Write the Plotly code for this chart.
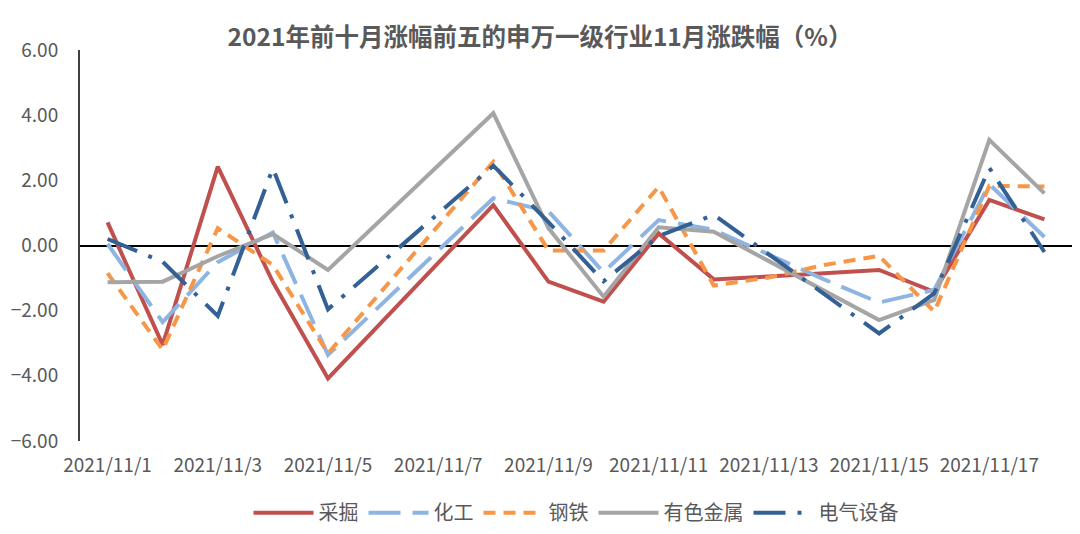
import plotly.graph_objects as go

categories = [f"2021/11/{d}" for d in range(1, 19)]
tick_labels = categories[::2]

caijue = [0.71, -3.05, 2.42, -1.12, -4.08, -2.30, -0.52, 1.24, -1.11, -1.72, 0.37, -1.04, -0.95, -0.85, -0.75, -1.42, 1.40, 0.80]
huagong = [0.05, -2.35, -0.51, 0.40, -3.36, -1.76, -0.16, 1.45, 1.05, -0.82, 0.78, 0.48, -0.28, -1.04, -1.75, -1.36, 1.88, 0.26]
gangtie = [-0.85, -3.20, 0.53, -0.60, -3.31, -1.35, 0.61, 2.57, -0.15, -0.15, 1.80, -1.23, -0.98, -0.60, -0.32, -2.03, 1.83, 1.81]
youse = [-1.13, -1.11, -0.33, 0.35, -0.75, 0.85, 2.46, 4.06, 0.53, -1.57, 0.56, 0.42, -0.48, -1.39, -2.29, -1.67, 3.24, 1.60]
dianqi = [0.20, -0.50, -2.16, 2.37, -1.96, -0.49, 0.98, 2.45, 0.72, -1.10, 0.29, 0.94, -0.27, -1.49, -2.70, -1.47, 2.38, -0.20]

series = [
    ("采掘", caijue, "#C0504D", "solid"),
    ("化工", huagong, "#8DB4E2", "32px,12px"),
    ("钢铁", gangtie, "#F79646", "12px,8px"),
    ("有色金属", youse, "#A5A5A5", "solid"),
    ("电气设备", dianqi, "#336195", "32px,12px,4px,12px"),
]

fig = go.Figure()
for name, vals, color, dash in series:
    fig.add_trace(go.Scatter(
        x=categories, y=vals, name=name, mode="lines",
        line=dict(color=color, width=4, dash=dash),
    ))

font_family = "Noto Sans CJK SC, Noto Sans, sans-serif"
fig.update_layout(
    width=1080, height=534,
    margin=dict(l=80, r=8, t=50, b=93, autoexpand=False),
    paper_bgcolor="white", plot_bgcolor="white",
    font=dict(family=font_family, color="#595959"),
    title=dict(
        text="<b>2021年前十月涨幅前五的申万一级行业11月涨跌幅（%）</b>",
        x=0.5, xanchor="center", y=0.93, yanchor="middle",
        font=dict(size=24.5, color="#595959", family=font_family),
    ),
    showlegend=True,
    legend=dict(
        orientation="h", x=0.5, xanchor="center",
        yref="container", y=0.04, yanchor="middle",
        font=dict(size=20, color="#595959"),
        itemwidth=60,
    ),
    xaxis=dict(
        type="category", range=[-0.5, 17.5],
        tickmode="array", tickvals=tick_labels, ticktext=tick_labels,
        showgrid=False, showline=False, zeroline=False,
        tickfont=dict(size=19, color="#595959"),
        ticklabelstandoff=11,
    ),
    yaxis=dict(
        range=[-6, 6], dtick=2, tick0=0, tickformat=".2f",
        showgrid=False, showline=True, linecolor="#404040", linewidth=2,
        zeroline=True, zerolinecolor="black", zerolinewidth=2,
        tickfont=dict(size=19, color="#595959"),
        ticklabelstandoff=16,
    ),
)

fig.write_html("out.html")
